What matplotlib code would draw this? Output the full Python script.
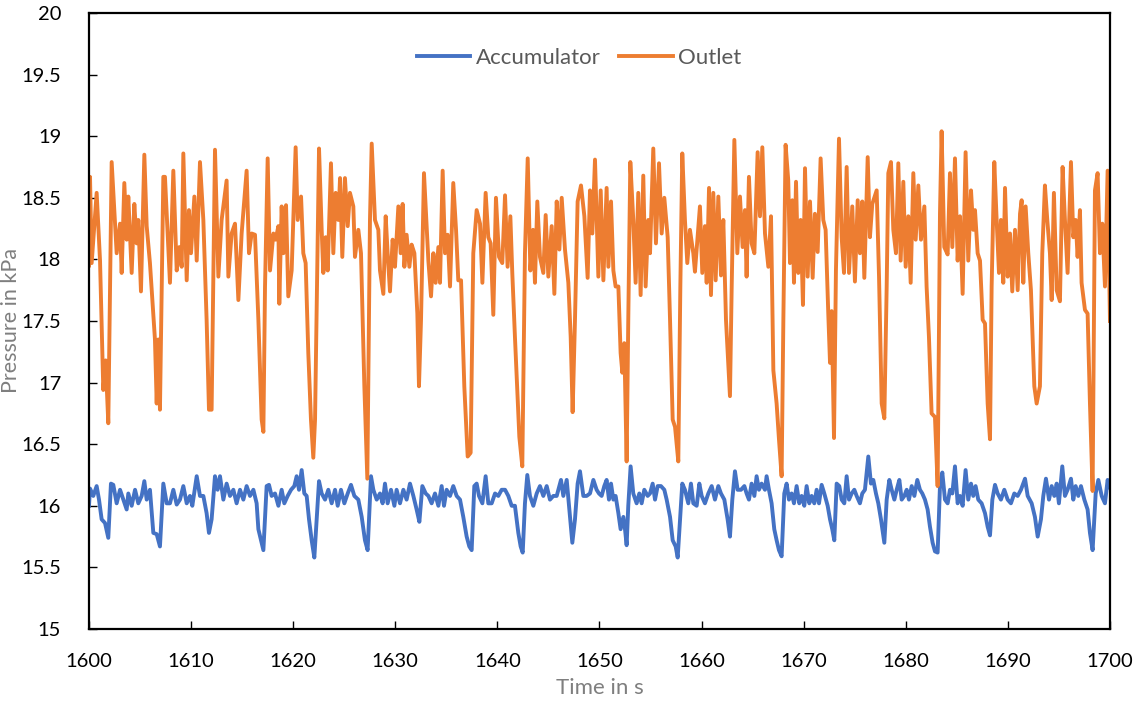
import matplotlib.pyplot as plt
from matplotlib.ticker import MultipleLocator, FuncFormatter

# Zeit in s und Druck in kPa
outlet_t = [
    1600.0, 1600.1, 1600.26, 1600.75, 1601.08, 1601.4, 1601.63, 1601.89, 1602.22, 1602.71,
    1603.04, 1603.2, 1603.46, 1603.69, 1603.85, 1604.18, 1604.44, 1604.67, 1604.83, 1605.09,
    1605.42, 1605.65, 1605.97, 1606.46, 1606.63, 1606.79, 1606.95, 1607.28, 1607.44, 1607.93,
    1608.26, 1608.59, 1608.85, 1609.08, 1609.24, 1609.57, 1609.79, 1609.99, 1610.32, 1610.55,
    1610.87, 1611.2, 1611.52, 1611.75, 1612.01, 1612.34, 1612.67, 1612.99, 1613.48, 1613.65,
    1613.97, 1614.3, 1614.63, 1614.95, 1615.44, 1615.67, 1615.93, 1616.26,
    1616.59, 1616.91, 1617.08, 1617.24, 1617.5, 1617.73, 1618.06, 1618.28, 1618.55, 1618.64,
    1618.87, 1619.04, 1619.3, 1619.52, 1619.85, 1620.24, 1620.44, 1620.77, 1620.99, 1621.22,
    1621.48, 1621.74, 1621.97, 1622.14, 1622.53, 1622.79, 1622.95, 1623.18, 1623.38, 1623.7,
    1623.93, 1624.16, 1624.42, 1624.59, 1624.81, 1625.07, 1625.34, 1625.56, 1625.89, 1626.05,
    1626.38, 1626.64, 1626.97, 1627.26, 1627.52, 1627.69, 1628.01, 1628.34, 1628.5, 1628.83,
    1629.06, 1629.25, 1629.48, 1629.74, 1629.97, 1630.3, 1630.53, 1630.72, 1630.89, 1631.11,
    1631.38, 1631.6, 1631.87, 1632.16, 1632.32, 1632.52, 1632.81,
    1633.24, 1633.5, 1633.73, 1633.95, 1634.22, 1634.38, 1634.64, 1634.87, 1635.13, 1635.36,
    1635.68, 1635.95, 1636.17, 1636.44, 1636.76, 1637.09, 1637.38, 1637.64, 1637.97, 1638.3,
    1638.53, 1638.85, 1639.11, 1639.34, 1639.6, 1639.86, 1640.16, 1640.48, 1640.75, 1641.0,
    1641.27, 1641.46, 1641.72, 1642.15, 1642.44, 1642.7, 1642.97, 1643.23, 1643.49, 1643.68,
    1643.91, 1644.17, 1644.5, 1644.73, 1644.99, 1645.32, 1645.58, 1645.81, 1646.07, 1646.3,
    1646.62, 1646.95, 1647.18, 1647.37, 1647.6, 1647.86, 1648.19, 1648.52, 1648.84, 1649.07,
    1649.3, 1649.56,
    1649.89, 1650.12, 1650.38, 1650.7, 1650.87, 1651.13, 1651.36, 1651.58, 1651.85, 1652.07,
    1652.24, 1652.43, 1652.66, 1652.82, 1653.02, 1653.31, 1653.54, 1653.8, 1654.03, 1654.29,
    1654.52, 1654.78, 1654.95, 1655.27, 1655.53, 1655.83, 1656.09, 1656.35, 1656.68, 1656.91,
    1657.17, 1657.4, 1657.72, 1657.92, 1658.11, 1658.37, 1658.6, 1658.86, 1659.19, 1659.35,
    1659.84, 1660.07, 1660.33, 1660.5, 1660.73, 1660.92, 1661.15, 1661.38, 1661.64, 1661.9,
    1662.13, 1662.39, 1662.78, 1662.95, 1663.21, 1663.5, 1663.76, 1664.02, 1664.25, 1664.41,
    1664.64, 1664.9, 1665.17, 1665.49, 1665.72, 1665.95, 1666.21,
    1666.54, 1666.8, 1667.03, 1667.35, 1667.58, 1667.84, 1668.01, 1668.23, 1668.49, 1668.66,
    1668.89, 1669.05, 1669.25, 1669.47, 1669.7, 1669.93, 1670.13, 1670.39, 1670.62, 1670.88,
    1671.1, 1671.37, 1671.66, 1671.92, 1672.15, 1672.41, 1672.58, 1672.74, 1672.97, 1673.16,
    1673.46, 1673.72, 1673.95, 1674.21, 1674.44, 1674.76, 1675.02, 1675.29, 1675.51, 1675.74,
    1675.94, 1676.27, 1676.49, 1676.72, 1677.15, 1677.38, 1677.64, 1677.9, 1678.13, 1678.29,
    1678.55, 1678.78, 1679.04, 1679.27, 1679.5, 1679.76, 1679.99, 1680.25, 1680.48, 1680.74,
    1680.97, 1681.23, 1681.49, 1681.82, 1682.04, 1682.27, 1682.53, 1682.86,
    1683.12, 1683.35, 1683.51, 1683.77, 1684.1, 1684.33, 1684.56, 1684.82, 1685.08, 1685.31,
    1685.57, 1685.86, 1686.12, 1686.39, 1686.61, 1686.78, 1687.04, 1687.27, 1687.53, 1687.76,
    1688.02, 1688.25, 1688.41, 1688.67, 1688.9, 1689.13, 1689.32, 1689.55, 1689.72, 1689.98,
    1690.21, 1690.43, 1690.7, 1690.96, 1691.19, 1691.35, 1691.51, 1691.74, 1692.0, 1692.26,
    1692.59, 1692.82, 1693.14, 1693.37, 1693.63, 1693.86, 1694.12, 1694.29, 1694.51, 1694.78,
    1695.1, 1695.36, 1695.59, 1695.85, 1696.18, 1696.41, 1696.64, 1696.83, 1697.06, 1697.22,
    1697.55, 1697.81, 1698.04, 1698.3, 1698.53, 1698.79, 1699.02, 1699.25, 1699.51, 1699.77,
    1700.0,
]
outlet_p = [
    17.95, 18.67, 17.97, 18.54, 17.99, 16.94, 17.18, 16.67, 18.79, 18.05,
    18.29, 17.89, 18.62, 18.16, 18.51, 17.89, 18.45, 18.13, 18.32, 17.74,
    18.85, 18.27, 17.97, 17.35, 16.83, 17.35, 16.78, 18.67, 18.67, 17.81,
    18.72, 17.91, 18.1, 17.94, 18.86, 17.83, 18.4, 18.05, 18.51, 17.99,
    18.79, 18.32, 17.51, 16.78, 16.78, 18.89, 17.86, 18.32, 18.64, 17.86,
    18.21, 18.29, 17.67, 18.21, 18.72, 18.05, 18.21, 18.2,
    17.51, 16.7, 16.6, 17.78, 18.82, 17.91, 18.21, 18.16, 18.27, 17.64,
    18.43, 18.05, 18.44, 17.7, 17.91, 18.91, 18.32, 18.51, 18.05, 17.97,
    17.24, 16.7, 16.39, 16.7, 18.9, 18.24, 17.89, 18.18, 17.91, 18.78,
    18.05, 18.54, 18.32, 18.66, 18.02, 18.66, 18.27, 18.54, 18.43, 18.02,
    18.24, 18.05, 16.97, 16.22, 18.32, 18.94, 18.32, 18.24, 17.91, 17.72,
    18.35, 18.05, 17.74, 18.16, 17.94, 18.43, 18.05, 18.45, 17.94, 18.2,
    17.94, 18.12, 18.05, 17.56, 16.97, 17.51, 18.7,
    17.99, 17.7, 18.05, 17.81, 18.1, 17.81, 18.72, 18.05, 18.2, 17.78,
    18.62, 18.24, 17.83, 17.83, 16.97, 16.4, 16.43, 18.05, 18.4, 18.29,
    17.81, 18.54, 18.18, 18.13, 17.55, 18.5, 18.02, 17.97, 18.52, 17.94,
    18.35, 17.89, 17.37, 16.56, 16.32, 18.05, 18.82, 17.91, 18.24, 17.81,
    18.47, 18.02, 17.89, 18.36, 17.86, 18.27, 17.72, 18.47, 18.08, 18.5,
    18.08, 17.81, 17.37, 16.76, 17.51, 18.47, 18.6, 18.35, 17.85, 18.56,
    18.21, 18.81,
    17.86, 18.56, 17.83, 18.58, 17.94, 18.47, 17.91, 17.78, 17.78, 17.24,
    17.08, 17.32, 16.36, 17.51, 18.79, 18.32, 17.81, 18.54, 17.71, 18.68,
    17.78, 18.32, 18.05, 18.9, 18.13, 18.78, 18.21, 18.5, 18.18, 17.51,
    16.7, 16.64, 16.36, 17.78, 18.86, 18.32, 17.97, 18.24, 18.05, 17.9,
    18.43, 17.89, 18.27, 17.81, 18.58, 17.71, 18.54, 17.83, 18.51, 17.87,
    18.32, 17.51, 16.89, 17.78, 18.97, 18.05, 18.51, 18.1, 18.4, 17.86,
    18.67, 18.13, 18.05, 18.87, 18.35, 18.91, 18.21,
    17.94, 18.35, 17.1, 16.83, 16.54, 16.24, 17.51, 18.93, 18.64, 17.97,
    18.48, 17.81, 18.63, 17.89, 18.32, 17.63, 18.74, 17.86, 18.47, 17.85,
    18.37, 18.06, 18.82, 18.32, 18.24, 17.56, 17.16, 17.58, 16.55, 17.91,
    18.98, 18.18, 17.89, 18.75, 17.89, 18.43, 17.82, 18.48, 18.05, 18.47,
    17.85, 18.83, 18.18, 18.45, 18.56, 17.86, 16.83, 16.71, 17.78, 18.7,
    18.79, 18.24, 18.05, 18.78, 17.99, 18.63, 17.94, 18.35, 17.81, 18.7,
    18.16, 18.6, 18.16, 18.43, 17.78, 17.37, 16.75, 16.72,
    16.16, 18.37, 19.04, 18.1, 18.04, 18.7, 18.1, 18.82, 17.99, 18.35,
    17.72, 18.87, 17.99, 18.56, 18.24, 18.4, 18.05, 17.99, 17.51, 17.48,
    16.83, 16.54, 17.78, 18.79, 18.32, 17.89, 18.32, 17.81, 18.58, 17.86,
    18.21, 17.74, 18.24, 17.75, 18.37, 18.48, 17.81, 18.43, 18.05, 17.75,
    16.97, 16.83, 16.97, 18.05, 18.6, 18.32, 18.05, 17.67, 18.54, 17.75,
    17.66, 18.75, 18.32, 17.89, 18.79, 18.18, 18.32, 18.02, 18.4, 17.81,
    17.59, 17.56, 16.83, 16.12, 18.56, 18.7, 18.05, 18.29, 17.78, 18.72,
    17.5,
]

accum_t = [
    1600.0, 1600.1, 1600.42, 1600.75, 1600.98, 1601.24, 1601.57, 1601.89, 1602.15, 1602.38,
    1602.71, 1603.04, 1603.36, 1603.69, 1603.85, 1604.18, 1604.51, 1604.83, 1605.16, 1605.42,
    1605.65, 1605.97, 1606.3, 1606.63, 1606.95, 1607.28, 1607.61, 1607.93, 1608.26, 1608.59,
    1608.91, 1609.24, 1609.57, 1609.89, 1610.12, 1610.55, 1610.87, 1611.2, 1611.52, 1611.75,
    1612.01, 1612.34, 1612.6, 1612.83, 1613.16, 1613.48, 1613.81, 1614.14, 1614.46, 1614.79,
    1615.12, 1615.44, 1615.77, 1616.1, 1616.42,
    1616.59, 1616.91, 1617.08, 1617.4, 1617.63, 1617.89, 1618.22, 1618.55, 1618.87, 1619.13,
    1619.46, 1619.79, 1620.11, 1620.34, 1620.57, 1620.83, 1621.09, 1621.32, 1621.55, 1621.81,
    1622.07, 1622.3, 1622.53, 1622.79, 1623.12, 1623.44, 1623.77, 1624.1, 1624.36, 1624.68,
    1625.01, 1625.34, 1625.66, 1625.99, 1626.38, 1626.71, 1627.03, 1627.29, 1627.62, 1627.85,
    1628.18, 1628.5, 1628.76, 1628.99, 1629.25, 1629.58, 1629.91, 1630.13, 1630.46, 1630.79,
    1631.11, 1631.44, 1631.77, 1632.09, 1632.36, 1632.65, 1632.98,
    1633.24, 1633.56, 1633.89, 1634.22, 1634.54, 1634.77, 1635.03, 1635.36, 1635.68, 1636.01,
    1636.34, 1636.66, 1636.99, 1637.25, 1637.48, 1637.74, 1637.97, 1638.2, 1638.53, 1638.85,
    1639.11, 1639.44, 1639.77, 1640.09, 1640.42, 1640.75, 1641.07, 1641.4, 1641.72, 1642.05,
    1642.28, 1642.48, 1642.7, 1642.93, 1643.19, 1643.52, 1643.85, 1644.17, 1644.5, 1644.83,
    1645.15, 1645.48, 1645.81, 1646.23, 1646.46, 1646.79, 1647.11, 1647.34, 1647.6, 1647.86,
    1648.09, 1648.42, 1648.74, 1649.07, 1649.4, 1649.72,
    1649.95, 1650.21, 1650.47, 1650.7, 1650.93, 1651.13, 1651.36, 1651.58, 1651.85, 1652.07,
    1652.34, 1652.5, 1652.66, 1652.82, 1653.05, 1653.31, 1653.64, 1653.9, 1654.13, 1654.39,
    1654.72, 1654.95, 1655.21, 1655.44, 1655.7, 1656.02, 1656.35, 1656.58, 1656.91, 1657.17,
    1657.46, 1657.66, 1657.89, 1658.11, 1658.37, 1658.7, 1658.96, 1659.19, 1659.52, 1659.78,
    1660.01, 1660.33, 1660.66, 1660.99, 1661.31, 1661.64, 1661.9, 1662.23, 1662.55, 1662.78,
    1663.01, 1663.27, 1663.53, 1663.86, 1664.19, 1664.41, 1664.64, 1664.9, 1665.17, 1665.39,
    1665.62, 1665.88, 1666.21,
    1666.37, 1666.6, 1666.86, 1667.12, 1667.35, 1667.58, 1667.84, 1668.1, 1668.33, 1668.56,
    1668.82, 1669.05, 1669.31, 1669.57, 1669.8, 1670.06, 1670.29, 1670.55, 1670.78, 1671.04,
    1671.27, 1671.5, 1671.76, 1672.02, 1672.35, 1672.58, 1672.8, 1673.0, 1673.23, 1673.49,
    1673.72, 1673.98, 1674.21, 1674.44, 1674.7, 1674.96, 1675.19, 1675.51, 1675.74, 1676.0,
    1676.33, 1676.59, 1676.82, 1677.08, 1677.31, 1677.57, 1677.9, 1678.13, 1678.39, 1678.62,
    1678.88, 1679.11, 1679.37, 1679.6, 1679.86, 1680.09, 1680.31, 1680.58, 1680.84, 1681.13,
    1681.39, 1681.62, 1681.88, 1682.14, 1682.37, 1682.63, 1682.86,
    1683.12, 1683.35, 1683.58, 1683.84, 1684.1, 1684.33, 1684.56, 1684.82, 1685.08, 1685.31,
    1685.57, 1685.86, 1686.12, 1686.39, 1686.61, 1686.84, 1687.1, 1687.43, 1687.76, 1688.02,
    1688.25, 1688.48, 1688.74, 1689.0, 1689.32, 1689.65, 1689.98, 1690.3, 1690.63, 1690.96,
    1691.28, 1691.68, 1691.94, 1692.33, 1692.65, 1692.92, 1693.24, 1693.47, 1693.73, 1694.03,
    1694.29, 1694.55, 1694.78, 1695.0, 1695.33, 1695.59, 1695.85, 1696.18, 1696.41, 1696.64,
    1696.9, 1697.16, 1697.49, 1697.81, 1698.04, 1698.3, 1698.6, 1698.86, 1699.19, 1699.51,
    1699.77, 1700.0,
]
accum_p = [
    16.0, 16.14, 16.08, 16.16, 16.05, 15.89, 15.86, 15.74, 16.18, 16.17,
    16.02, 16.13, 16.05, 15.97, 16.1, 16.0, 16.13, 16.02, 16.08, 16.2,
    16.05, 16.13, 15.78, 15.77, 15.67, 16.18, 16.02, 16.02, 16.13, 16.01,
    16.05, 16.16, 16.02, 16.08, 16.0, 16.24, 16.08, 16.08, 15.94, 15.78,
    15.89, 16.24, 16.13, 16.24, 16.05, 16.18, 16.08, 16.13, 16.02, 16.13,
    16.05, 16.16, 16.08, 16.13, 16.02,
    15.81, 15.7, 15.64, 16.16, 16.17, 16.08, 16.1, 16.0, 16.13, 16.02,
    16.08, 16.13, 16.16, 16.24, 16.13, 16.29, 16.1, 16.08, 15.89, 15.72,
    15.58, 15.89, 16.2, 16.1, 16.05, 16.13, 16.02, 16.13, 16.0, 16.13,
    16.02, 16.1, 16.17, 16.08, 16.05, 15.91, 15.72, 15.64, 16.24, 16.13,
    16.05, 16.1, 16.02, 16.18, 16.02, 16.13, 16.0, 16.13, 16.02, 16.13,
    16.05, 16.18, 16.08, 15.97, 15.87, 16.16, 16.1,
    16.08, 16.02, 16.1, 16.0, 16.16, 16.0, 16.13, 16.08, 16.16, 16.08,
    16.05, 15.91, 15.75, 15.67, 15.64, 16.16, 16.18, 16.08, 16.02, 16.24,
    16.02, 16.02, 16.1, 16.08, 16.13, 16.13, 16.08, 16.0, 16.0, 15.78,
    15.67, 15.62, 16.02, 16.25, 16.08, 16.0, 16.1, 16.16, 16.08, 16.16,
    16.05, 16.08, 16.08, 16.21, 16.08, 16.21, 15.91, 15.7, 15.89, 16.18,
    16.28, 16.08, 16.08, 16.1, 16.21, 16.13,
    16.1, 16.08, 16.16, 16.21, 16.05, 16.18, 16.05, 16.08, 15.94, 15.81,
    15.91, 15.81, 15.68, 16.0, 16.32, 16.1, 16.02, 16.1, 16.02, 16.13,
    16.08, 16.1, 16.18, 16.05, 16.16, 16.16, 16.13, 16.05, 15.91, 15.72,
    15.67, 15.58, 15.89, 16.18, 16.13, 16.02, 16.18, 16.02, 16.0, 16.18,
    16.08, 16.02, 16.1, 16.16, 16.05, 16.16, 16.1, 16.05, 15.89, 15.75,
    16.05, 16.28, 16.13, 16.13, 16.16, 16.1, 16.05, 16.18, 16.08, 16.24,
    16.13, 16.18, 16.13,
    16.24, 16.13, 16.02, 15.81, 15.72, 15.64, 15.59, 16.1, 16.18, 16.05,
    16.1, 16.02, 16.16, 16.02, 16.08, 16.0, 16.16, 16.02, 16.08, 16.02,
    16.13, 16.02, 16.17, 16.1, 16.0, 15.89, 15.81, 15.72, 16.18, 16.16,
    16.05, 16.02, 16.24, 16.05, 16.1, 16.13, 16.08, 16.02, 16.1, 16.13,
    16.4, 16.18, 16.21, 16.1, 16.02, 15.89, 15.7, 16.05, 16.21, 16.13,
    16.05, 16.13, 16.21, 16.05, 16.08, 16.13, 16.05, 16.16, 16.08, 16.21,
    16.13, 16.1, 16.05, 15.97, 15.83, 15.7, 15.63,
    15.62, 16.16, 16.27, 16.05, 16.02, 16.13, 16.1, 16.32, 16.02, 16.08,
    16.0, 16.29, 16.05, 16.18, 16.08, 16.16, 16.05, 16.02, 15.94, 15.83,
    15.76, 16.05, 16.17, 16.1, 16.05, 16.13, 16.05, 16.02, 16.1, 16.08,
    16.13, 16.22, 16.08, 16.02, 15.91, 15.75, 15.89, 16.08, 16.22, 16.05,
    16.16, 16.08, 16.18, 16.02, 16.32, 16.08, 16.13, 16.22, 16.05, 16.16,
    16.08, 16.16, 16.05, 15.97, 15.78, 15.64, 16.1, 16.21, 16.08, 16.02,
    16.21, 16.15,
]

plt.rcParams['font.family'] = ['Lato', 'DejaVu Sans']

fig = plt.figure(figsize=(11.41, 7.02), dpi=100)
ax = fig.add_axes([0.078, 0.104, 0.8948, 0.8775])

ax.plot(accum_t, accum_p, color='#4472C4', lw=2.8, solid_joinstyle='round', label='Accumulator')
ax.plot(outlet_t, outlet_p, color='#ED7D31', lw=2.8, solid_joinstyle='round', label='Outlet')

ax.set_xlim(1600, 1700)
ax.set_ylim(15, 20)
ax.xaxis.set_major_locator(MultipleLocator(10))
ax.yaxis.set_major_locator(MultipleLocator(0.5))
ax.yaxis.set_major_formatter(FuncFormatter(lambda v, p: f'{v:g}'))

ax.tick_params(axis='both', direction='in', length=6, width=1, labelsize=14.5, colors='black')
ax.tick_params(axis='x', pad=17)
ax.tick_params(axis='y', pad=20)
for s in ax.spines.values():
    s.set_linewidth(1.6)
    s.set_color('black')

ax.set_xlabel('Time in s', fontsize=16, color='#7f7f7f', labelpad=6)
ax.set_ylabel('Pressure in kPa', fontsize=15.5, color='#7f7f7f')
ax.yaxis.set_label_coords(-0.067, 0.5)

ax.legend(loc='center', bbox_to_anchor=(0.48, 0.927), ncol=2, frameon=False,
          fontsize=16, handlelength=2.4, columnspacing=0.85, handletextpad=0.25,
          labelcolor='#595959')

fig.savefig('out.png', dpi=100)
